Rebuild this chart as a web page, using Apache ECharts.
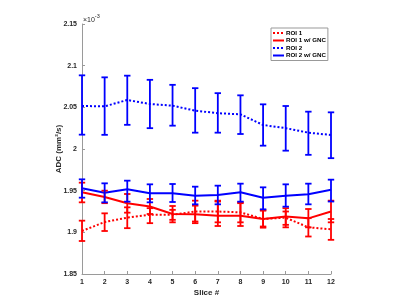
<!DOCTYPE html>
<html>
<head>
<meta charset="utf-8">
<script src="https://cdn.jsdelivr.net/npm/echarts@6/dist/echarts.min.js"></script>
<style>html,body{margin:0;padding:0;background:#fff;}#c{width:400px;height:308px;}</style>
</head>
<body>
<div id="c"></div>
<script>
var slices = [1,2,3,4,5,6,7,8,9,10,11,12];
var yTicks = [1.85,1.9,1.95,2,2.05,2.1,2.15];

var roi1    = [1.9016,1.9124,1.9176,1.921,1.921,1.925,1.925,1.924,1.916,1.9176,1.906,1.9036];
var roi1Lo  = [1.8896,1.9016,1.905,1.911,1.915,1.913,1.912,1.912,1.907,1.909,1.895,1.891];
var roi1Hi  = [1.914,1.9228,1.930,1.929,1.927,1.938,1.938,1.935,1.926,1.925,1.917,1.916];

var roi1g   = [1.948,1.9424,1.9348,1.931,1.922,1.9216,1.920,1.920,1.916,1.919,1.9168,1.925];
var roi1gLo = [1.936,1.935,1.9236,1.922,1.912,1.911,1.9076,1.9076,1.9056,1.906,1.906,1.912];
var roi1gHi = [1.9596,1.950,1.946,1.940,1.9316,1.932,1.937,1.936,1.9268,1.929,1.928,1.938];

var roi2    = [2.0516,2.0512,2.0588,2.054,2.052,2.046,2.043,2.0416,2.0288,2.025,2.0196,2.0168];
var roi2Lo  = [2.0172,2.017,2.029,2.025,2.028,2.0196,2.0196,2.018,2.004,1.998,1.993,1.989];
var roi2Hi  = [2.0884,2.086,2.088,2.083,2.077,2.073,2.067,2.0644,2.0536,2.0516,2.0448,2.044];

var roi2g   = [1.9528,1.9476,1.9516,1.9468,1.9468,1.944,1.9448,1.948,1.9416,1.944,1.9456,1.951];
var roi2gLo = [1.9416,1.936,1.9368,1.936,1.9364,1.9336,1.9336,1.9368,1.9276,1.9308,1.9336,1.937];
var roi2gHi = [1.9636,1.9588,1.962,1.9576,1.958,1.9548,1.956,1.9584,1.954,1.9576,1.9584,1.9632];

var names = ['ROI 1','ROI 1 w/ GNC','ROI 2','ROI 2 w/ GNC'];
var RED = '#ff0000', BLUE = '#0000ff';
var FONT = 'Liberation Sans, Arial, sans-serif';

function pts(v){ return slices.map(function(s,i){ return [s, v[i]]; }); }
function bars(lo,hi){ return slices.map(function(s,i){ return [s, lo[i], hi[i]]; }); }

function errRender(color){
  return function(params, api){
    var x = api.value(0);
    var top = api.coord([x, api.value(2)]);
    var bot = api.coord([x, api.value(1)]);
    var w = 3.2;
    var st = {stroke: color, lineWidth: 1.8};
    return {type:'group', children:[
      {type:'line', shape:{x1:top[0],y1:top[1],x2:bot[0],y2:bot[1]}, style:st},
      {type:'line', shape:{x1:top[0]-w,y1:top[1],x2:top[0]+w,y2:top[1]}, style:st},
      {type:'line', shape:{x1:bot[0]-w,y1:bot[1],x2:bot[0]+w,y2:bot[1]}, style:st}
    ]};
  };
}

function lineSeries(name, vals, color, dotted){
  return {type:'line', name:name, data:pts(vals), symbol:'none', showSymbol:false,
    lineStyle:{color:color, width:2, type: dotted ? [2,2] : 'solid'},
    itemStyle:{color:color}, animation:false, z:2};
}
function errSeries(lo, hi, color){
  return {type:'custom', data:bars(lo,hi), renderItem:errRender(color), animation:false, z:3,
    encode:{x:0, y:[1,2]}};
}

var series = [
  lineSeries(names[0], roi1, RED, true), errSeries(roi1Lo, roi1Hi, RED),
  lineSeries(names[1], roi1g, RED, false), errSeries(roi1gLo, roi1gHi, RED),
  lineSeries(names[2], roi2, BLUE, true), errSeries(roi2Lo, roi2Hi, BLUE),
  lineSeries(names[3], roi2g, BLUE, false), errSeries(roi2gLo, roi2gHi, BLUE)
];

var labelStyle = {color:'#262626', fontSize:7, fontWeight:'bold', fontFamily:FONT};

var chart = echarts.init(document.getElementById('c'), null, {renderer:'canvas'});
chart.setOption({
  animation:false,
  grid:{left:82, right:69, top:24, bottom:34, containLabel:false},
  legend:{
    data:names, orient:'vertical', left:271, top:28,
    backgroundColor:'#fff', borderColor:'#999', borderWidth:1, borderRadius:0,
    padding:[2,2,2,1], itemGap:1.5, itemWidth:11, itemHeight:7,
    itemStyle:{opacity:0},
    textStyle:{color:'#000', fontSize:6.2, fontWeight:'bold', fontFamily:FONT, padding:[0,0,0,-3]},
    selectedMode:false
  },
  xAxis:{
    type:'value', min:1, max:12, interval:1,
    name:'Slice #', nameLocation:'middle', nameGap:15, nameMoveOverlap:false,
    nameTextStyle:{color:'#262626', fontSize:8, fontWeight:'bold', fontFamily:FONT},
    axisLine:{show:true, onZero:false, lineStyle:{color:'#9a9a9a', width:1}},
    axisTick:{show:true, inside:true, length:3, lineStyle:{color:'#9a9a9a'}},
    axisLabel:Object.assign({margin:5}, labelStyle),
    splitLine:{show:false}
  },
  yAxis:{
    type:'value', min:1.85, max:2.15, interval:0.05,
    name:'ADC (mm²/s)', nameLocation:'middle', nameGap:19, nameRotate:90, nameMoveOverlap:false,
    nameTextStyle:{color:'#262626', fontSize:8, fontWeight:'bold', fontFamily:FONT},
    axisLine:{show:true, onZero:false, lineStyle:{color:'#9a9a9a', width:1}},
    axisTick:{show:true, inside:true, length:3, lineStyle:{color:'#9a9a9a'}},
    axisLabel:Object.assign({margin:5, formatter:function(v){ return String(parseFloat(v.toFixed(2))); }}, labelStyle),
    splitLine:{show:false}
  },
  graphic:[{
    type:'text', left:83, top:13,
    style:{
      text:'{a|×10}{b|-3}',
      rich:{
        a:{fontSize:7, fill:'#262626', fontFamily:FONT, verticalAlign:'bottom'},
        b:{fontSize:5.5, fill:'#262626', fontFamily:FONT, verticalAlign:'top', padding:[0,0,5,0]}
      }
    }
  }],
  series:series
});
</script>
</body>
</html>
